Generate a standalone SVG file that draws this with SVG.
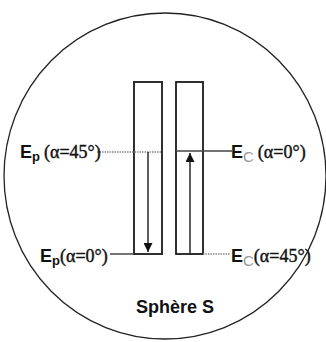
<svg xmlns="http://www.w3.org/2000/svg" width="326" height="342" viewBox="0 0 326 342">
<defs>
<style>
.rect{fill:none;stroke:#1a1a1a;stroke-width:1.8}
.lvl{stroke:#444;stroke-width:1.5;fill:none}
.dot{stroke:#888;stroke-width:1.5;stroke-dasharray:1.5 1;fill:none}
.arr{stroke:#1a1a1a;stroke-width:1.4;fill:none}
.e{font-family:"Liberation Sans",Arial,sans-serif;font-weight:bold;font-size:18px;fill:#111}
.sub{font-family:"Liberation Sans",Arial,sans-serif;font-weight:bold;font-size:13px;fill:#111}
.subc{font-family:"Liberation Sans",Arial,sans-serif;font-size:15px;fill:#999}
.par{font-family:"Liberation Serif","Times New Roman",serif;font-size:18px;fill:#111;stroke:#111;stroke-width:0.4}
.t{font-family:"Liberation Sans",Arial,sans-serif;font-weight:bold;font-size:18px;fill:#111}
</style>
<marker id="ah" viewBox="0 0 10 10" refX="10" refY="5" markerWidth="10" markerHeight="9" markerUnits="userSpaceOnUse" orient="auto">
<path d="M0,0 L10,5 L0,10 Z" fill="#111"/>
</marker>
</defs>
<g id="sphere">
<ellipse cx="165" cy="176" rx="161" ry="163" fill="none" stroke="#222" stroke-width="1.3"/>
</g>
<g id="band-p">
<rect class="rect" x="134" y="82" width="28" height="172"/>
</g>
<g id="band-c">
<rect class="rect" x="176" y="82" width="27" height="172"/>
</g>
<g id="connectors">
<line class="dot" x1="97" y1="152" x2="162" y2="152"/>
<line class="lvl" x1="176" y1="151" x2="232" y2="151"/>
<line class="lvl" x1="110" y1="254" x2="134" y2="254"/>
<line class="dot" x1="203" y1="254" x2="230" y2="254"/>
<line class="arr" x1="148" y1="152" x2="148" y2="252" marker-end="url(#ah)"/>
<line class="arr" x1="190" y1="254" x2="190" y2="153" marker-end="url(#ah)"/>
</g>
<g id="label-ep45">
<text x="20" y="158"><tspan class="e">E</tspan><tspan class="sub" dy="3">p</tspan><tspan class="par" dx="4" dy="-3">(α=45°)</tspan></text>
</g>
<g id="label-ec0">
<text x="231" y="158"><tspan class="e">E</tspan><tspan class="subc" dy="4">C</tspan><tspan class="par" dx="4" dy="-4">(α=0°)</tspan></text>
</g>
<g id="label-ep0">
<text x="40" y="262"><tspan class="e">E</tspan><tspan class="sub" dy="3">p</tspan><tspan class="par" dy="-3">(α=0°)</tspan></text>
</g>
<g id="label-ec45">
<text x="231" y="262"><tspan class="e">E</tspan><tspan class="subc" dy="4">C</tspan><tspan class="par" dy="-4">(α=45°)</tspan></text>
</g>
<g id="label-sphere">
<text class="t" x="175" y="313" text-anchor="middle">Sphère S</text>
</g>
</svg>
